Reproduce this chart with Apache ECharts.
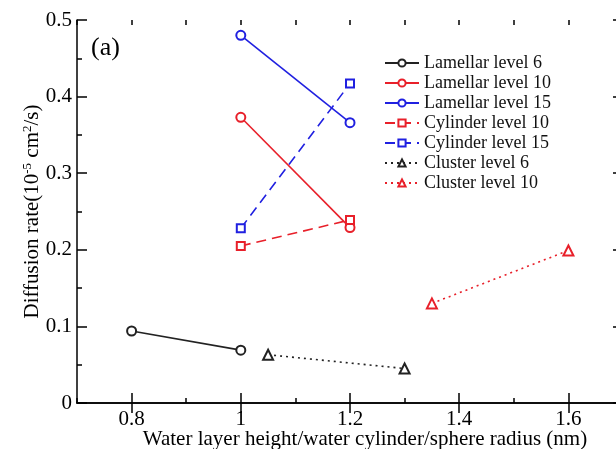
<!DOCTYPE html>
<html>
<head>
<meta charset="utf-8">
<script src="https://cdn.jsdelivr.net/npm/echarts@6/dist/echarts.min.js"></script>
<style>
  html, body { margin: 0; padding: 0; background: #fff; }
  #chart { width: 616px; height: 449px; }
</style>
</head>
<body>
<div id="chart"></div>
<script>
// data
var seriesNames = ['Lamellar level 6', 'Lamellar level 10', 'Lamellar level 15',
                   'Cylinder level 10', 'Cylinder level 15', 'Cluster level 6', 'Cluster level 10'];
var lamellar6  = [[0.8, 0.094], [1.0, 0.069]];
var lamellar10 = [[1.0, 0.373], [1.2, 0.229]];
var lamellar15 = [[1.0, 0.480], [1.2, 0.366]];
var cylinder10 = [[1.0, 0.205], [1.2, 0.239]];
var cylinder15 = [[1.0, 0.228], [1.2, 0.417]];
var cluster6   = [[1.05, 0.063], [1.3, 0.045]];
var cluster10  = [[1.35, 0.130], [1.6, 0.199]];
var xMajor = [0.8, 1.0, 1.2, 1.4, 1.6];

var FONT = '"Liberation Serif", "DejaVu Serif", serif';
var BLACK = '#222', RED = '#e8202a', BLUE = '#2020e0';

function xAx(pos, major, labels) {
    return {
        type: 'value', position: pos, min: 0.7, max: 1.7,
        interval: 0.1,
        axisLine: { show: major, lineStyle: { color: '#000', width: 1.5 } },
        axisTick: major
            ? { show: true, inside: true, length: 10, customValues: xMajor, lineStyle: { color: '#000', width: 1.5 } }
            : { show: true, inside: true, length: 5, lineStyle: { color: '#000', width: 1.5 } },
        axisLabel: labels
            ? { show: true, customValues: xMajor, color: '#000', fontFamily: FONT, fontSize: 21, margin: 6 }
            : { show: false },
        splitLine: { show: false }
    };
}
function yAx(pos, labels) {
    return {
        type: 'value', position: pos, min: 0, max: 0.5, interval: 0.1,
        axisLine: { show: true, lineStyle: { color: '#000', width: 1.5 } },
        axisTick: { show: true, inside: true, length: 10, lineStyle: { color: '#000', width: 1.5 } },
        minorTick: { show: true, splitNumber: 2, length: 5, lineStyle: { color: '#000', width: 1.5 } },
        axisLabel: { show: labels, color: '#000', fontFamily: FONT, fontSize: 21, margin: 5 },
        splitLine: { show: false }
    };
}

function line(name, data, color, type, symbol, size) {
    return {
        name: name, type: 'line', data: data,
        symbol: symbol, symbolSize: size,
        lineStyle: { color: color, width: 1.6, type: type },
        itemStyle: { color: color, borderColor: color, borderWidth: 1.2 },
        animation: false
    };
}

var chart = echarts.init(document.getElementById('chart'));
var yAxes = [yAx('left', true), yAx('right', false)];
yAxes[0].name = '{t|Diffusion rate(10}{s|-5}{t| cm}{s|2}{t|/s)}';
yAxes[0].nameLocation = 'middle';
yAxes[0].nameGap = 33;
yAxes[0].nameMoveOverlap = false;
yAxes[0].nameTextStyle = {
    rich: {
        t: { fontFamily: FONT, fontSize: 21, color: '#000' },
        s: { fontFamily: FONT, fontSize: 13, color: '#000', padding: [0, 0, 10, 0] }
    }
};
var xAxes = [xAx('bottom', true, true), xAx('top', true, false), xAx('bottom', false, false), xAx('top', false, false)];
xAxes[0].name = 'Water layer height/water cylinder/sphere radius (nm)';
xAxes[0].nameLocation = 'middle';
xAxes[0].nameGap = 26;
xAxes[0].nameMoveOverlap = false;
xAxes[0].nameTextStyle = { fontFamily: FONT, fontSize: 21, color: '#000', padding: [0, 0, 0, 30] };

chart.setOption({
    animation: false,
    backgroundColor: '#fff',
    title: {
        text: '(a)', left: 86, top: 30,
        textStyle: { fontFamily: FONT, fontSize: 26, fontWeight: 'normal', color: '#000' }
    },
    grid: { left: 77, top: 20, width: 546, height: 383, outerBoundsMode: 'none' },
    legend: {
        orient: 'vertical', left: 379, top: 49,
        itemWidth: 34, itemHeight: 9, itemGap: 2,
        data: seriesNames,
        textStyle: { fontFamily: FONT, fontSize: 18, color: '#111' }
    },
    xAxis: xAxes,
    yAxis: yAxes,
    series: [
        line(seriesNames[0], lamellar6, BLACK, 'solid', 'emptyCircle', 9),
        line(seriesNames[1], lamellar10, RED, 'solid', 'emptyCircle', 9),
        line(seriesNames[2], lamellar15, BLUE, 'solid', 'emptyCircle', 9),
        line(seriesNames[3], cylinder10, RED, [10, 6], 'emptyRect', 8),
        line(seriesNames[4], cylinder15, BLUE, [10, 6], 'emptyRect', 8),
        line(seriesNames[5], cluster6, BLACK, [2, 4], 'emptyTriangle', 10),
        line(seriesNames[6], cluster10, RED, [2, 4], 'emptyTriangle', 10)
    ]
});
</script>
</body>
</html>
